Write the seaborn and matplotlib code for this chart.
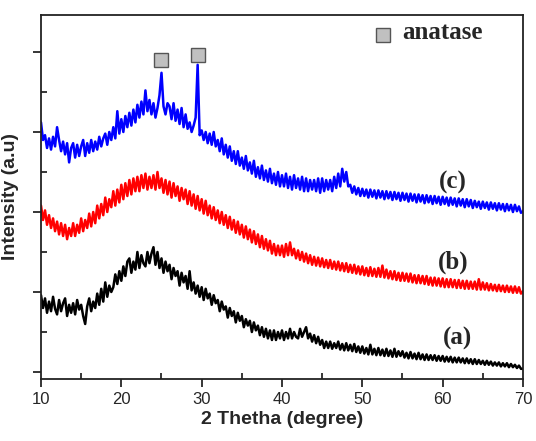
import numpy as np
import pandas as pd
import matplotlib
matplotlib.use("Agg")
import matplotlib.pyplot as plt
from matplotlib.ticker import MultipleLocator
import seaborn as sns

# scan grid, 0.25 deg step from 10 to 70
two_theta = np.round(np.arange(10, 70.001, 0.25), 2)

# (a) sample
sample_a = [
    96, 80, 92, 74, 88, 76, 94, 79, 72, 90, 76, 86, 92, 70, 84, 74,
    86, 72, 90, 78, 84, 70, 60, 82, 92, 76, 88, 80, 98, 84, 104, 88,
    112, 94, 108, 100, 106, 122, 110, 126, 114, 132, 120, 138, 142, 124, 138, 128,
    150, 130, 146, 136, 132, 150, 136, 148, 156, 134, 150, 130, 142, 124, 138, 126,
    134, 116, 130, 120, 126, 108, 124, 112, 120, 104, 126, 102, 112, 98, 108, 94,
    106, 90, 104, 92, 98, 84, 96, 86, 90, 76, 88, 78, 82, 68, 80, 70,
    76, 62, 74, 64, 70, 56, 66, 58, 64, 50, 62, 52, 58, 46, 56, 44,
    54, 42, 52, 40, 52, 40, 50, 42, 52, 40, 50, 42, 54, 42, 50, 44,
    42, 54, 44, 50, 56, 42, 48, 38, 46, 36, 44, 34, 40, 30, 38, 30,
    38, 29, 36, 30, 38, 28, 35, 27, 36, 27, 34, 26, 35, 25, 32, 24,
    32, 23, 30, 22, 34, 22, 29, 21, 30, 21, 28, 20, 29, 20, 27, 19,
    29, 19, 26, 20, 26, 18, 24, 17, 25, 17, 23, 16, 24, 16, 22, 15,
    22, 15, 21, 15, 21, 14, 20, 14, 20, 13, 19, 13, 19, 12, 18, 12,
    18, 12, 17, 11, 17, 11, 16, 10, 16, 10, 15, 10, 14, 9, 14, 9,
    13, 8, 12, 8, 12, 7, 11, 7, 11, 6, 10, 6, 9, 5, 8, 4,
    4,
]

# (b) sample
sample_b = [
    208, 190, 202, 184, 196, 180, 192, 176, 188, 172, 186, 170, 184, 166, 180, 170,
    186, 170, 184, 174, 192, 176, 190, 180, 198, 182, 200, 186, 208, 192, 210, 196,
    218, 200, 216, 206, 226, 208, 228, 212, 234, 216, 236, 220, 240, 222, 242, 226,
    244, 226, 246, 230, 248, 228, 244, 230, 246, 228, 250, 230, 242, 224, 240, 222,
    238, 218, 236, 220, 232, 214, 230, 216, 228, 210, 226, 208, 222, 204, 220, 202,
    216, 198, 214, 196, 208, 192, 206, 190, 202, 186, 200, 184, 196, 180, 194, 178,
    190, 174, 188, 172, 184, 168, 182, 166, 178, 162, 176, 160, 172, 156, 170, 154,
    166, 152, 164, 148, 160, 146, 158, 146, 158, 144, 160, 146, 162, 146, 154, 142,
    152, 140, 150, 138, 148, 136, 146, 134, 144, 133, 143, 132, 142, 131, 140, 130,
    140, 129, 138, 128, 138, 127, 136, 126, 136, 125, 134, 124, 134, 123, 132, 122,
    132, 121, 130, 120, 131, 120, 129, 119, 130, 119, 133, 118, 128, 117, 126, 116,
    126, 115, 124, 114, 124, 114, 123, 113, 123, 112, 121, 111, 121, 111, 120, 110,
    120, 109, 118, 108, 118, 108, 117, 107, 117, 106, 116, 106, 116, 106, 115, 105,
    115, 105, 114, 104, 114, 104, 113, 104, 113, 103, 116, 103, 112, 103, 111, 102,
    110, 102, 109, 101, 109, 101, 108, 100, 108, 100, 107, 99, 107, 99, 106, 98,
    101,
]

# (c) sample, with the two sharp peaks
sample_c = [
    312, 290, 296, 280, 292, 278, 294, 282, 306, 290, 276, 288, 272, 286, 262, 280,
    286, 268, 284, 270, 282, 290, 270, 286, 274, 290, 276, 288, 278, 294, 282, 292,
    298, 284, 300, 290, 306, 292, 326, 298, 316, 300, 320, 306, 324, 308, 328, 312,
    334, 318, 338, 322, 352, 326, 340, 322, 336, 318, 330, 346, 374, 332, 322, 336,
    332, 316, 336, 314, 328, 310, 330, 306, 322, 304, 312, 300, 308, 318, 384, 296,
    302, 290, 300, 286, 298, 284, 300, 282, 290, 276, 292, 272, 284, 268, 282, 264,
    276, 260, 276, 258, 268, 254, 270, 252, 262, 248, 264, 244, 256, 242, 258, 240,
    252, 238, 254, 236, 248, 234, 250, 232, 246, 232, 248, 230, 244, 228, 246, 230,
    242, 228, 244, 226, 242, 226, 240, 228, 240, 226, 242, 224, 242, 226, 240, 228,
    240, 226, 244, 230, 248, 232, 254, 238, 250, 232, 234, 224, 232, 222, 230, 220,
    229, 220, 228, 218, 228, 219, 227, 217, 227, 218, 226, 216, 226, 217, 225, 215,
    225, 216, 224, 214, 224, 215, 223, 213, 223, 214, 222, 212, 222, 213, 221, 211,
    221, 212, 220, 210, 220, 211, 219, 209, 219, 210, 218, 208, 218, 209, 217, 207,
    217, 208, 216, 206, 216, 207, 215, 205, 214, 206, 213, 204, 213, 205, 212, 203,
    212, 204, 211, 202, 211, 203, 210, 201, 210, 202, 209, 200, 209, 201, 207, 199,
    201,
]

sample_names = ["(a)", "(b)", "(c)"]
line_colors = ["black", "#ff0000", "#0000ff"]

# anatase marks: (2 theta, height)
anatase_x = [25.0, 29.5]
anatase_y = [390, 396]

df = pd.concat([
    pd.DataFrame({"2theta": two_theta, "intensity": vals, "sample": name})
    for name, vals in zip(sample_names, [sample_a, sample_b, sample_c])
])

sns.set_style("ticks")
plt.rcParams["font.family"] = ["Liberation Sans", "DejaVu Sans"]
serif = ["Liberation Serif", "DejaVu Serif"]

fig = plt.figure(figsize=(5.36, 4.41), dpi=100)
ax = fig.add_axes([0.0765, 0.1406, 0.8992, 0.8254])

sns.lineplot(data=df, x="2theta", y="intensity", hue="sample",
             palette=dict(zip(sample_names, line_colors)),
             linewidth=1.8, legend=False, ax=ax, estimator=None, sort=False)

ax.plot(anatase_x, anatase_y, "s", markersize=10, markerfacecolor="#c0c0c0",
        markeredgecolor="#555555", markeredgewidth=1, linestyle="none")
ax.plot([52.6], [421], "s", markersize=10, markerfacecolor="#c0c0c0",
        markeredgecolor="#555555", markeredgewidth=1)
ax.text(55.0, 424, "anatase", fontsize=18, fontweight="bold",
        family=serif, va="center", ha="left")

for name, xx, yy in [("(c)", 61.3, 237), ("(b)", 61.3, 137), ("(a)", 61.9, 42)]:
    ax.text(xx, yy, name, fontsize=18, fontweight="bold",
            family=serif, va="center", ha="center")

ax.set_xlim(10, 70)
ax.set_ylim(-8.75, 446.25)
ax.xaxis.set_major_locator(MultipleLocator(10))
ax.xaxis.set_minor_locator(MultipleLocator(5))
ax.yaxis.set_major_locator(MultipleLocator(100))
ax.yaxis.set_minor_locator(MultipleLocator(50))
ax.tick_params(which="major", direction="out", length=6, width=1.3, labelsize=12,
               top=False, right=False)
ax.tick_params(which="minor", direction="in", length=4, width=1.3,
               top=False, right=False)
ax.set_yticklabels([])
for s in ax.spines.values():
    s.set_linewidth(1.3)
    s.set_color("#222222")

ax.set_xlabel("2 Thetha (degree)", fontsize=14, fontweight="bold", labelpad=3)
ax.set_ylabel("Intensity (a.u)", fontsize=14, fontweight="bold", labelpad=6)

fig.savefig("out.png", dpi=100)
